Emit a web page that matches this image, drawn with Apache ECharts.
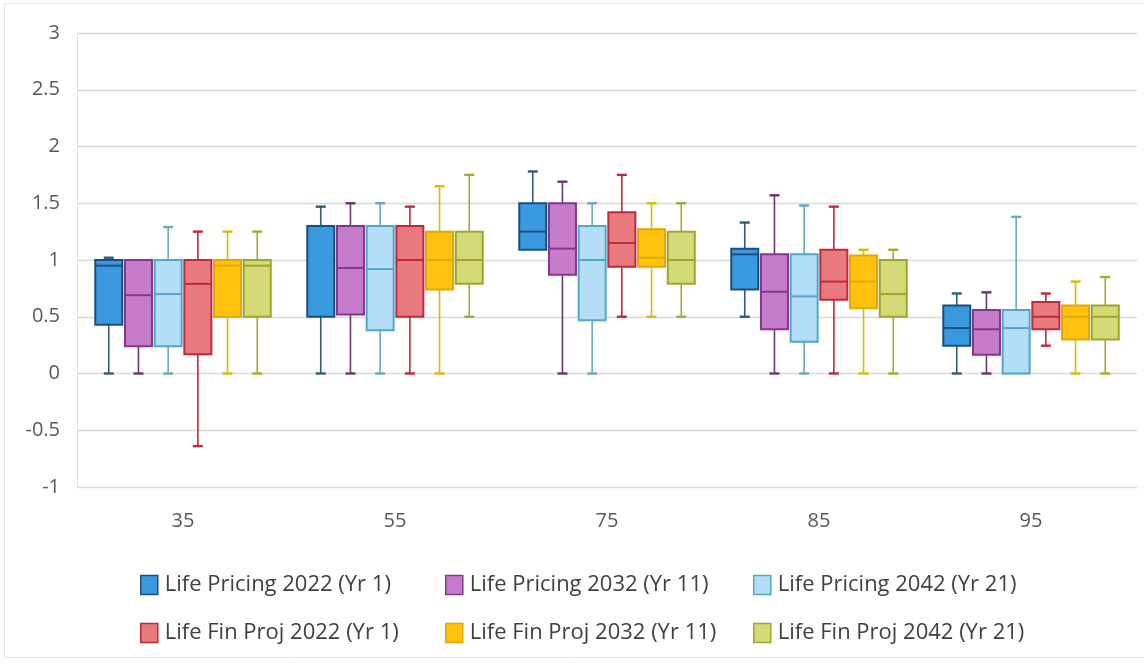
<!DOCTYPE html>
<html>
<head>
<meta charset="utf-8">
<script src="https://cdn.jsdelivr.net/npm/echarts@6/dist/echarts.min.js"></script>
<style>html,body{margin:0;padding:0;background:#fff}#c{width:1144px;height:671px}</style>
</head>
<body>
<div id="c"></div>
<script>
// Categories (age)
const categories = ['35', '55', '75', '85', '95'];
// Series names
const seriesNames = [
  'Life Pricing 2022 (Yr 1)', 'Life Pricing 2032 (Yr 11)', 'Life Pricing 2042 (Yr 21)',
  'Life Fin Proj 2022 (Yr 1)', 'Life Fin Proj 2032 (Yr 11)', 'Life Fin Proj 2042 (Yr 21)'
];
// [min, q1, median, q3, max] per category
const lifePricing2022 = [[0, 0.43, 0.95, 1.0, 1.02], [0, 0.5, 1.3, 1.3, 1.47], [1.09, 1.09, 1.25, 1.5, 1.78], [0.5, 0.74, 1.05, 1.1, 1.33], [0, 0.245, 0.4, 0.6, 0.705]];
const lifePricing2032 = [[0, 0.24, 0.69, 1.0, 1.0], [0, 0.52, 0.93, 1.3, 1.5], [0, 0.87, 1.1, 1.5, 1.69], [0, 0.39, 0.72, 1.05, 1.57], [0, 0.165, 0.39, 0.56, 0.715]];
const lifePricing2042 = [[0, 0.24, 0.7, 1.0, 1.29], [0, 0.38, 0.92, 1.3, 1.5], [0, 0.47, 1.0, 1.3, 1.5], [0, 0.28, 0.68, 1.05, 1.48], [0, 0, 0.4, 0.56, 1.38]];
const lifeFinProj2022 = [[-0.64, 0.17, 0.79, 1.0, 1.25], [0, 0.5, 1.0, 1.3, 1.47], [0.5, 0.94, 1.15, 1.42, 1.75], [0, 0.65, 0.81, 1.09, 1.47], [0.245, 0.39, 0.5, 0.63, 0.705]];
const lifeFinProj2032 = [[0, 0.5, 0.95, 1.0, 1.25], [0, 0.74, 1.0, 1.25, 1.65], [0.5, 0.94, 1.02, 1.27, 1.5], [0, 0.575, 0.81, 1.04, 1.09], [0, 0.3, 0.5, 0.6, 0.81]];
const lifeFinProj2042 = [[0, 0.5, 0.95, 1.0, 1.25], [0.5, 0.79, 1.0, 1.25, 1.75], [0.5, 0.79, 1.0, 1.25, 1.5], [0, 0.5, 0.7, 1.0, 1.09], [0, 0.3, 0.5, 0.6, 0.85]];
const allData = [lifePricing2022, lifePricing2032, lifePricing2042, lifeFinProj2022, lifeFinProj2032, lifeFinProj2042];
// Y tick labels
const yMin = -1, yMax = 3, yInterval = 0.5;

const fills = ['#3A9AE0', '#C47CCB', '#B3DEF6', '#E8797D', '#FFC20E', '#D5DA79'];
const borders = ['#1C4F7C', '#84378A', '#4FA7C9', '#C0283C', '#E0A800', '#9DA52A'];
const whiskers = ['#2B5D78', '#6D3570', '#6AA9B5', '#C0283C', '#D8BC00', '#A5AA2E'];

const STEP = 29.7, BOX_W = 27, CAP_W = 10;

function renderItem(params, api) {
  const si = params.seriesIndex;
  const cat = api.value(0);
  const xc = api.coord([cat, 0])[0] + (si - 2.5) * STEP;
  const y = [1, 2, 3, 4, 5].map(d => api.coord([cat, api.value(d)])[1]);
  const half = BOX_W / 2, ch = CAP_W / 2;
  const ws = { stroke: whiskers[si], lineWidth: 1.6 };
  const children = [];
  if (Math.abs(y[4] - y[3]) > 0.5) {
    children.push({ type: 'line', shape: { x1: xc, y1: y[3], x2: xc, y2: y[4] }, style: ws });
    children.push({ type: 'line', shape: { x1: xc - ch, y1: y[4], x2: xc + ch, y2: y[4] }, style: { stroke: whiskers[si], lineWidth: 2.4 } });
  }
  if (Math.abs(y[0] - y[1]) > 0.5) {
    children.push({ type: 'line', shape: { x1: xc, y1: y[1], x2: xc, y2: y[0] }, style: ws });
    children.push({ type: 'line', shape: { x1: xc - ch, y1: y[0], x2: xc + ch, y2: y[0] }, style: { stroke: whiskers[si], lineWidth: 2.4 } });
  }
  children.push({ type: 'rect', shape: { x: xc - half, y: y[3], width: BOX_W, height: y[1] - y[3] },
    style: { fill: fills[si], stroke: borders[si], lineWidth: 2 } });
  children.push({ type: 'line', shape: { x1: xc - half, y1: y[2], x2: xc + half, y2: y[2] },
    style: { stroke: borders[si], lineWidth: 2 } });
  return { type: 'group', children: children };
}

const series = seriesNames.map((name, si) => ({
  name: name,
  type: 'custom',
  renderItem: renderItem,
  itemStyle: { color: fills[si], borderColor: borders[si], borderWidth: 1.5 },
  encode: { x: 0, y: [1, 2, 3, 4, 5] },
  data: allData[si].map((d, ci) => [ci].concat(d))
}));

const legendLeft = [135, 440, 748];
const legendTop = [569, 617];
const legends = seriesNames.map((name, si) => ({
  left: legendLeft[si % 3],
  top: legendTop[Math.floor(si / 3)],
  itemWidth: 17, itemHeight: 19, itemGap: 10,
  icon: 'rect',
  textStyle: { fontFamily: 'Open Sans', fontSize: 22, color: '#404040', padding: [0, 0, 0, 2] },
  data: [{ name: name, itemStyle: { color: fills[si], borderColor: borders[si], borderWidth: 1.5 } }]
}));

const chart = echarts.init(document.getElementById('c'), null, { renderer: 'canvas' });
chart.setOption({
  animation: false,
  backgroundColor: '#ffffff',
  graphic: [{ type: 'rect', shape: { x: 4.5, y: 3.5, width: 1145, height: 654 }, style: { fill: 'none', stroke: '#e3e3e3', lineWidth: 1 }, silent: true, z: -10 }],
  grid: { left: 77, right: 7, top: 33, bottom: 184 },
  legend: legends,
  xAxis: {
    type: 'category',
    data: categories,
    axisLine: { show: false },
    axisTick: { show: false },
    axisLabel: { fontFamily: 'Open Sans', fontSize: 20, color: '#595959', margin: 24 },
    splitLine: { show: false }
  },
  yAxis: {
    type: 'value',
    min: yMin, max: yMax, interval: yInterval,
    axisLine: { show: true, lineStyle: { color: '#e0e0e0' } },
    axisTick: { show: false },
    axisLabel: { fontFamily: 'Open Sans', fontSize: 20, color: '#595959', margin: 17 },
    splitLine: { show: true, lineStyle: { color: '#d9d9d9', width: 1.3 } }
  },
  series: series
});
</script>
</body>
</html>
